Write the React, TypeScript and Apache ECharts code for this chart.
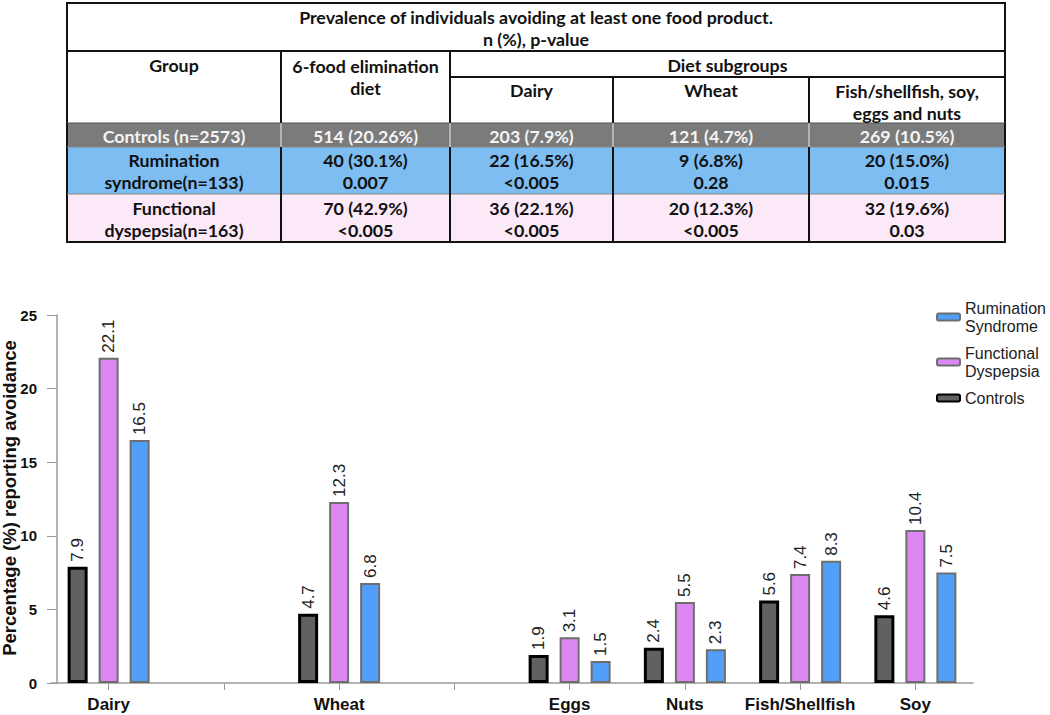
import React, { useEffect, useRef } from "react";
import * as echarts from "echarts";

const categories = ["Dairy", "", "Wheat", "", "Eggs", "Nuts", "Fish/Shellfish", "Soy"];
const controls = [7.9, "-", 4.7, "-", 1.9, 2.4, 5.6, 4.6];
const functional = [22.1, "-", 12.3, "-", 3.1, 5.5, 7.4, 10.4];
const rumination = [16.5, "-", 6.8, "-", 1.5, 2.3, 8.3, 7.5];
const yAxisTitle = "Percentage (%) reporting avoidance";

const tableTitle = ["Prevalence of individuals avoiding at least one food product.", "n (%), p-value"];
const headerGroup = "Group";
const headerSixFood = "6-food elimination\ndiet";
const headerSub = "Diet subgroups";
const subHeaders = ["Dairy", "Wheat", "Fish/shellfish, soy,\neggs and nuts"];
const rowGroups = ["Controls (n=2573)", "Rumination\nsyndrome(n=133)", "Functional\ndyspepsia(n=163)"];
const colSixFood = ["514 (20.26%)", "40 (30.1%)\n0.007", "70 (42.9%)\n<0.005"];
const colDairy = ["203 (7.9%)", "22 (16.5%)\n<0.005", "36 (22.1%)\n<0.005"];
const colWheat = ["121 (4.7%)", "9 (6.8%)\n0.28", "20 (12.3%)\n<0.005"];
const colOther = ["269 (10.5%)", "20 (15.0%)\n0.015", "32 (19.6%)\n0.03"];
const rowFills = ["#7b7b7b", "#7dbdf1", "#fbe9f8"];
const rowTextColors = ["#f4f4f4", "#111", "#111"];

const TFONT = "bold 17.8px Lato, 'Open Sans', sans-serif";
const AFONT = "bold 18.5px Arial, 'Liberation Sans', sans-serif";

function buildTable() {
  const cx = [67, 281, 450, 613, 809, 1005];
  const ry = [3, 51, 123, 147, 194, 242];
  const els: any[] = [];
  for (let i = 0; i < 3; i++) {
    els.push({ type: "rect", shape: { x: cx[0], y: ry[i + 2], width: cx[5] - cx[0], height: ry[i + 3] - ry[i + 2] }, style: { fill: rowFills[i] } });
  }
  const line = (x1: number, y1: number, x2: number, y2: number, c = "#111", w = 2) =>
    els.push({ type: "line", shape: { x1, y1, x2, y2 }, style: { stroke: c, lineWidth: w } });
  els.push({ type: "rect", shape: { x: cx[0], y: ry[0], width: cx[5] - cx[0], height: ry[5] - ry[0] }, style: { fill: "none", stroke: "#111", lineWidth: 2 } });
  line(cx[0], ry[1], cx[5], ry[1]);
  line(cx[2], 77, cx[5], 77);
  line(cx[0], ry[2], cx[5], ry[2], "#555", 1);
  line(cx[0], ry[3], cx[5], ry[3], "#888", 1);
  line(cx[0], ry[4], cx[5], ry[4], "#888", 1);
  for (let j = 1; j < 5; j++) {
    const top = j >= 3 ? 77 : ry[1];
    line(cx[j], top, cx[j], ry[2]);
    line(cx[j], ry[2], cx[j], ry[3], "#c8c8c8", 1.5);
    line(cx[j], ry[3], cx[j], ry[5]);
  }
  const text = (t: string, x: number, y: number, fill = "#111") =>
    els.push({ type: "text", x, y, style: { text: t, font: TFONT, fill, textAlign: "center", textVerticalAlign: "middle", lineHeight: 22 } });
  const mid = (j: number) => (cx[j] + cx[j + 1]) / 2;
  text(tableTitle[0], (cx[0] + cx[5]) / 2, 17);
  text(tableTitle[1], (cx[0] + cx[5]) / 2, 39);
  text(headerGroup, mid(0), 65);
  text(headerSixFood, mid(1), 76.5);
  text(headerSub, (cx[2] + cx[5]) / 2, 65);
  text(subHeaders[0], mid(2), 90);
  text(subHeaders[1], mid(3), 90);
  text(subHeaders[2], mid(4), 101.5);
  const cols = [rowGroups, colSixFood, colDairy, colWheat, colOther];
  for (let i = 0; i < 3; i++) {
    const yc = (ry[i + 2] + ry[i + 3]) / 2 + 0.5;
    for (let j = 0; j < 5; j++) text(cols[j][i], mid(j), yc, rowTextColors[i]);
  }
  els.push({
    type: "text",
    x: 9,
    y: 498,
    rotation: Math.PI / 2,
    style: { text: yAxisTitle, font: AFONT, fill: "#111", textAlign: "center", textVerticalAlign: "middle" },
  });
  return els;
}

const labelStyle = {
  show: true,
  position: "top",
  rotate: 90,
  align: "left",
  verticalAlign: "middle",
  distance: 5,
  fontFamily: "Arial, 'Liberation Sans', sans-serif",
  fontSize: 17,
  color: "#222",
};

export default function App() {
  const ref = useRef<HTMLDivElement>(null);
  useEffect(() => {
    const chart = echarts.init(ref.current!, undefined, { renderer: "svg" });
    const axisFont = { fontFamily: "Arial, 'Liberation Sans', sans-serif", fontWeight: "bold", fontSize: 17, color: "#111" };
    chart.setOption({
      animation: false,
      backgroundColor: "#fff",
      graphic: buildTable(),
      legend: {
        orient: "vertical",
        left: 931,
        top: 294,
        itemWidth: 23,
        itemHeight: 7,
        itemGap: 9,
        data: ["Rumination Syndrome", "Functional Dyspepsia", "Controls"],
        formatter: (n: string) => n.replace(" ", "\n"),
        textStyle: { fontFamily: "Arial, 'Liberation Sans', sans-serif", fontSize: 16, color: "#222", lineHeight: 18 },
      },
      grid: { left: 51, right: 77, top: 315, bottom: 32, containLabel: false, outerBoundsMode: "none" },
      xAxis: {
        type: "category",
        data: categories,
        axisLine: { lineStyle: { color: "#999", width: 1.5 } },
        axisTick: { show: true, alignWithLabel: true, interval: 0, length: 7, lineStyle: { color: "#999" } },
        axisLabel: { ...axisFont, interval: 0, margin: 13 },
      },
      yAxis: {
        type: "value",
        min: 0,
        max: 25,
        interval: 5,
        offset: -6,
        splitLine: { show: false },
        axisLine: { show: true, lineStyle: { color: "#999", width: 1.5 } },
        axisTick: { show: true, length: 10, lineStyle: { color: "#999" } },
        axisLabel: { ...axisFont, fontSize: 15, margin: 20 },
      },
      series: [
        {
          name: "Controls",
          type: "bar",
          data: controls,
          barWidth: 20,
          barGap: "55%",
          itemStyle: { color: "#616161", borderColor: "#000", borderWidth: 3 },
          label: labelStyle,
        },
        {
          name: "Functional Dyspepsia",
          type: "bar",
          data: functional,
          barWidth: 20,
          barGap: "55%",
          itemStyle: { color: "#dd88f2", borderColor: "#6e6e6e", borderWidth: 2 },
          label: labelStyle,
        },
        {
          name: "Rumination Syndrome",
          type: "bar",
          data: rumination,
          barWidth: 20,
          barGap: "55%",
          itemStyle: { color: "#529ff9", borderColor: "#6e6e6e", borderWidth: 2 },
          label: labelStyle,
        },
      ],
    });
    return () => chart.dispose();
  }, []);
  return <div ref={ref} style={{ position: "fixed", left: 0, top: 0, width: 1050, height: 715 }} />;
}
